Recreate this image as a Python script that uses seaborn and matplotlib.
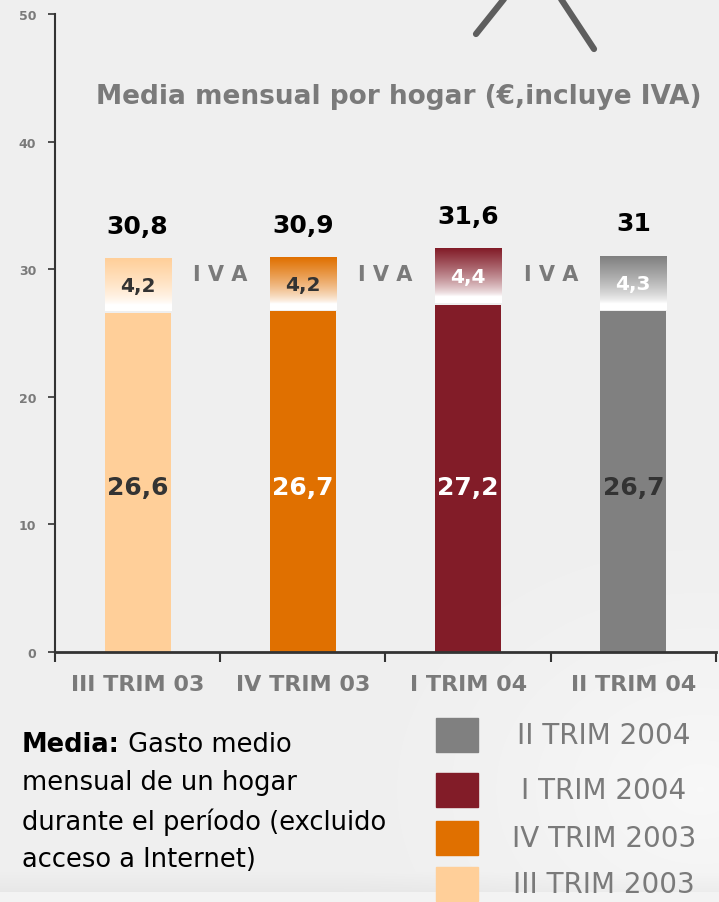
import matplotlib
matplotlib.use("Agg")
import matplotlib.pyplot as plt
import matplotlib.colors as mcolors
from matplotlib.patches import Rectangle
from matplotlib.lines import Line2D
import numpy as np
import pandas as pd
import seaborn as sns

# data
periods = ["III TRIM 03", "IV TRIM 03", "I TRIM 04", "II TRIM 04"]
base = [26.6, 26.7, 27.2, 26.7]
iva = [4.2, 4.2, 4.4, 4.3]
totals = ["30,8", "30,9", "31,6", "31"]
base_txt = ["26,6", "26,7", "27,2", "26,7"]
iva_txt = ["4,2", "4,2", "4,4", "4,3"]
legend_names = ["II TRIM 2004", "I TRIM 2004", "IV TRIM 2003", "III TRIM 2003"]

colors = ["#FFCF99", "#E07000", "#821C28", "#808080"]
base_txt_col = ["#333333", "white", "white", "#333333"]
iva_txt_col = ["#333333", "#333333", "white", "white"]
bg = "#EFEFEF"
grey = "#7A7A7A"

sns.set_theme(style="white")
plt.rcParams["font.family"] = ["DejaVu Sans"]

fig = plt.figure(figsize=(7.19, 9.03), dpi=100, facecolor=bg)

# soft background: lighter towards the bottom right, darker band at the foot
bax = fig.add_axes([0, 0, 1, 1], zorder=-10)
yy, xx = np.mgrid[0:903, 0:719]
d = np.sqrt(((xx - 700) / 380.0) ** 2 + ((yy - 790) / 300.0) ** 2)
shade = 0.938 + 0.035 * np.clip(1 - d, 0, 1) ** 1.5
band = (yy > 872) & (yy < 893)
shade = np.where(band, shade - 0.03 * (yy - 872) / 21.0, shade)
shade = np.where(yy >= 893, 0.955, shade)
bax.imshow(np.dstack([shade] * 3), extent=[0, 1, 0, 1], aspect="auto")
bax.axis("off")

ax = fig.add_axes([55 / 719, 250 / 903, 661 / 719, 638 / 903])
ax.patch.set_alpha(0)

df = pd.DataFrame({"periodo": periods, "base": base})
sns.barplot(data=df, x="periodo", y="base", hue="periodo", palette=colors,
            width=0.4, legend=False, ax=ax, saturation=1, linewidth=0)

# IVA part: gradient from bar colour down to white
w = 0.4
for i, (b, v, c) in enumerate(zip(base, iva, colors)):
    rgb = np.array(mcolors.to_rgb(c))
    t = np.linspace(0, 1, 100)[:, None]
    t = np.clip((t - 0.12) / 0.88, 0, 1) ** 0.75
    img = (1 - t) * np.ones(3) + t * rgb
    img = img[:, None, :]
    ax.imshow(img, extent=[i - w / 2, i + w / 2, b + 0.12, b + v],
              origin="lower", aspect="auto", zorder=3)
    ax.text(i, b + v + 2.6, totals[i], ha="center", va="center",
            fontsize=18, fontweight="bold", color="black")
    ax.text(i, b + v / 2, iva_txt[i], ha="center", va="center",
            fontsize=14.5, fontweight="bold", color=iva_txt_col[i], zorder=4)
    ax.text(i, 12.9, base_txt[i], ha="center", va="center",
            fontsize=18, fontweight="bold", color=base_txt_col[i], zorder=4)

for x in [0.5, 1.5, 2.5]:
    ax.text(x, 29.6, "I V A", ha="center", va="center", fontsize=15,
            fontweight="bold", color=grey)

fig.text(399 / 719, 1 - 97 / 903, "Media mensual por hogar (€,incluye IVA)",
         ha="center", va="center", fontsize=19, fontweight="bold", color=grey)

ax.set_xlim(-0.5, 3.5)
ax.set_ylim(0, 50)
ax.set_yticks([0, 10, 20, 30, 40, 50])
ax.set_xticks([-0.5, 0.5, 1.5, 2.5, 3.5])
ax.set_xticklabels([])
ax.set_xticks(range(4), minor=True)
ax.set_xticklabels(periods, minor=True)
ax.tick_params(axis="x", which="major", direction="out", length=7, width=1.5,
               color="#333333", bottom=True)
ax.tick_params(axis="x", which="minor", length=0, pad=16, labelsize=16,
               labelcolor=grey)
for lab in ax.get_xticklabels(minor=True):
    lab.set_fontweight("bold")
ax.tick_params(axis="y", direction="out", length=5, width=1.2, color="#333333",
               left=True, labelsize=9, labelcolor=grey, pad=8.5)
for lab in ax.get_yticklabels():
    lab.set_fontweight("bold")
ax.set_xlabel("")
ax.set_ylabel("")
sns.despine(ax=ax, top=True, right=True)
ax.spines["left"].set_color("#333333")
ax.spines["left"].set_linewidth(1.5)
ax.spines["bottom"].set_color("#333333")
ax.spines["bottom"].set_linewidth(2)

# decorative caret at the top
fig.add_artist(Line2D([476 / 719, 504 / 719], [1 - 35 / 903, 1.0], color="#5E5E5E",
                      lw=4.5, solid_capstyle="round"))
fig.add_artist(Line2D([561 / 719, 594 / 719], [1.0, 1 - 50 / 903], color="#5E5E5E",
                      lw=4.5, solid_capstyle="round"))

# footnote
fs = 18.5
lines = ["mensual de un hogar", "durante el período (excluido", "acceso a Internet)"]
t0 = fig.text(22 / 719, 1 - 745 / 903, "Media:", fontsize=fs, fontweight="bold",
              color="black", va="center")
fig.canvas.draw()
x_end = t0.get_window_extent().x1
fig.text(x_end / 719, 1 - 745 / 903, " Gasto medio", fontsize=fs, color="black",
         va="center")
for k, ln in enumerate(lines):
    fig.text(22 / 719, 1 - (745 + 38.5 * (k + 1)) / 903, ln, fontsize=fs,
             color="black", va="center")

# legend
leg_cols = colors[::-1]
leg_y = [736, 791, 839, 885]
for name, c, y in zip(legend_names, leg_cols, leg_y):
    fig.add_artist(Rectangle((436 / 719, 1 - (y + 17) / 903), 42 / 719, 34 / 903,
                             transform=fig.transFigure, color=c))
    fig.text(604 / 719, 1 - y / 903, name, fontsize=20, color=grey,
             ha="center", va="center")

fig.savefig("out.png", dpi=100, facecolor=bg)
